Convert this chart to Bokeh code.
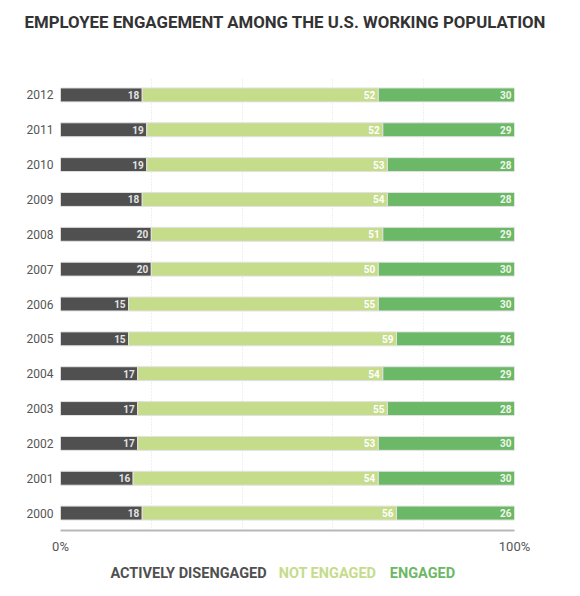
import numpy as np
from bokeh.plotting import figure
from bokeh.layouts import column
from bokeh.models import ColumnDataSource, FixedTicker, Range1d
from bokeh.core.properties import value
from bokeh.embed import file_html
from bokeh.resources import INLINE

years = ["2000", "2001", "2002", "2003", "2004", "2005", "2006",
         "2007", "2008", "2009", "2010", "2011", "2012"]
disengaged = [18, 16, 17, 17, 17, 15, 15, 20, 20, 18, 19, 19, 18]
not_engaged = [56, 54, 53, 55, 54, 59, 55, 50, 51, 54, 53, 52, 52]
engaged = [26, 30, 30, 28, 29, 26, 30, 30, 29, 28, 28, 29, 30]

series = ["ACTIVELY DISENGAGED", "NOT ENGAGED", "ENGAGED"]
colors = ["#505050", "#c5dc8b", "#6bb866"]
label_colors = ["#e4e4e4", "#ffffff", "#eef7ea"]
title_text = "EMPLOYEE ENGAGEMENT AMONG THE U.S. WORKING POPULATION"

FONT = "Roboto"
W = 580
LEFT, RIGHT = 60, 66   # borders shared by the three stacked figures

# --- title strip ---
t = figure(width=W, height=48, x_axis_type=None, y_axis_type=None,
           min_border_left=LEFT, min_border_right=RIGHT,
           min_border_top=0, min_border_bottom=0,
           output_backend="svg", toolbar_location=None)
t.outline_line_color = None
t.title.text = title_text
t.title.align = "left"
t.title.vertical_align = "middle"
t.title.offset = -36
t.title.standoff = 20
t.title.text_font = FONT
t.title.text_font_size = "16.8px"
t.title.text_font_style = "bold"
t.title.text_color = "#333333"

# --- bars ---
src = ColumnDataSource(dict(year=years, dis=disengaged, no=not_engaged, eng=engaged))

p = figure(width=W, height=517, y_range=years, x_range=Range1d(0, 100),
           output_backend="svg", toolbar_location=None,
           min_border_left=LEFT, min_border_right=RIGHT,
           min_border_top=29, min_border_bottom=35)
p.outline_line_color = None

p.ygrid.visible = False
p.xgrid.ticker = FixedTicker(ticks=[0, 20, 40, 60, 80, 100])
p.xgrid.grid_line_color = "#e0e0e0"
p.xgrid.grid_line_dash = "1 2"

p.hbar_stack(["dis", "no", "eng"], y="year", height=0.4, color=colors,
             line_color="#e2e2e2", line_width=1, source=src)

# value labels at the right end of every segment
vals = [np.array(disengaged), np.array(not_engaged), np.array(engaged)]
ends = np.cumsum(vals, axis=0)
for i in range(3):
    p.text(x=ends[i], y=years, text=[str(v) for v in vals[i]],
           x_offset=-3, text_align="right", text_baseline="middle",
           text_font=value(FONT), text_font_size="10px",
           text_font_style="bold", text_color=label_colors[i])

p.xaxis.ticker = FixedTicker(ticks=[0, 100])
p.xaxis.major_label_overrides = {0: "0%", 100: "100%"}
p.xaxis.axis_line_color = "#b8b8b8"
p.xaxis.axis_line_width = 2
p.xaxis.major_tick_line_color = None
p.xaxis.major_tick_out = 0
p.xaxis.minor_tick_line_color = None
p.xaxis.major_label_standoff = 8
p.xaxis.major_label_text_font = FONT
p.xaxis.major_label_text_font_size = "13px"
p.xaxis.major_label_text_color = "#555555"

p.yaxis.axis_line_color = None
p.yaxis.major_tick_line_color = None
p.yaxis.major_tick_out = 0
p.yaxis.minor_tick_line_color = None
p.yaxis.major_label_standoff = 7
p.yaxis.major_label_text_font = FONT
p.yaxis.major_label_text_font_size = "12px"
p.yaxis.major_label_text_color = "#555555"

# --- legend strip: coloured words only ---
lg = figure(width=W, height=28, x_range=Range1d(LEFT, W - RIGHT), y_range=Range1d(0, 28),
            x_axis_type=None, y_axis_type=None,
            min_border_left=LEFT, min_border_right=RIGHT,
            min_border_top=0, min_border_bottom=0,
            output_backend="svg", toolbar_location=None)
lg.outline_line_color = None
lg.text(x=[188, 327, 422], y=[20, 20, 20], text=series, text_font=value(FONT),
        text_font_size="14.5px", text_font_style="bold", text_color=colors,
        text_baseline="middle", text_align="center")

layout = column(t, p, lg, spacing=0)
open("out.html", "w").write(file_html(layout, INLINE))
